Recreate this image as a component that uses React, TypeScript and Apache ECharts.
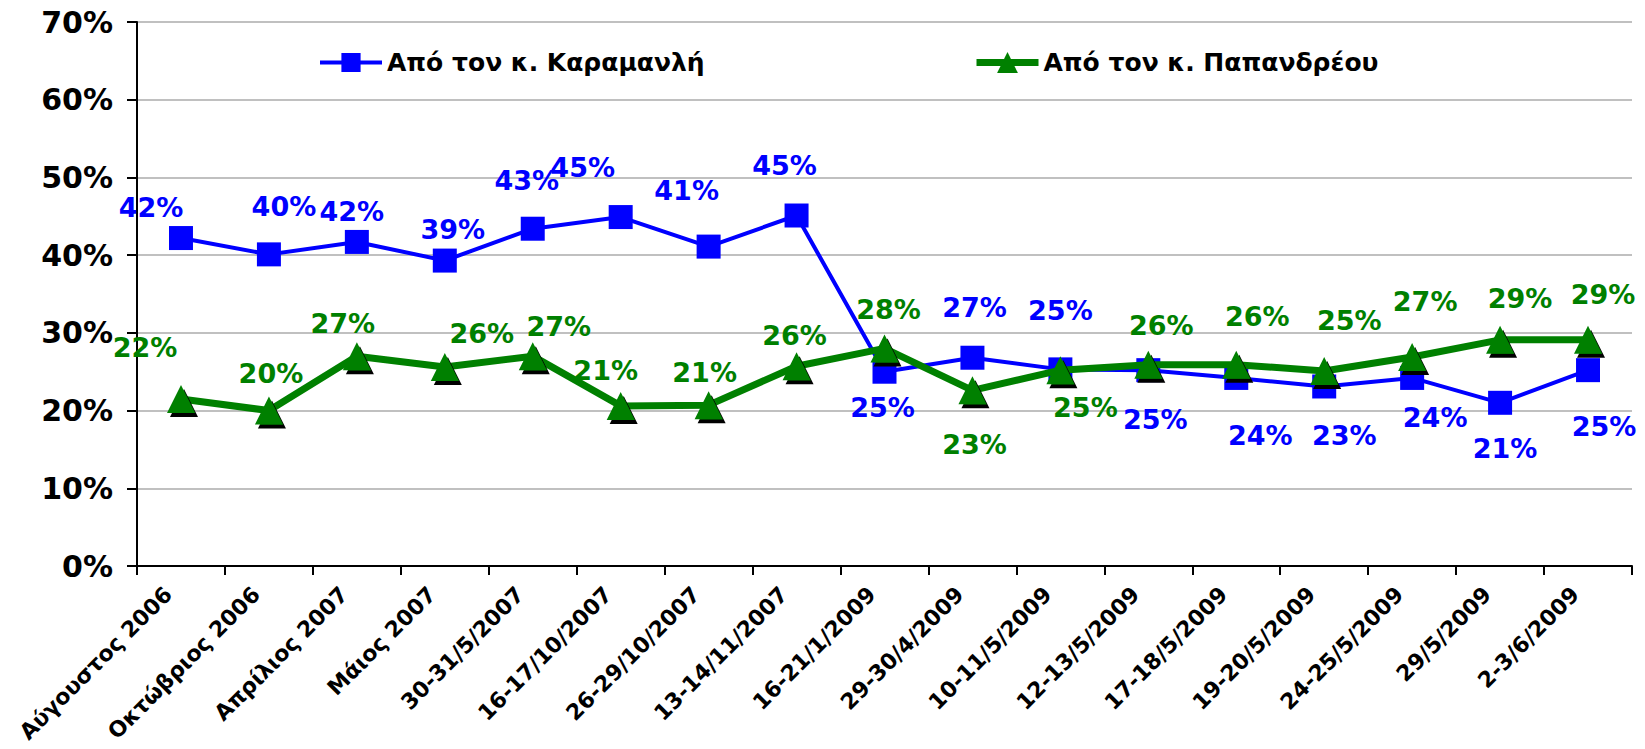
import React, { useEffect, useRef } from "react";
import * as echarts from "echarts";

const categories = [
  "Αύγουστος 2006",
  "Οκτώβριος 2006",
  "Απρίλιος 2007",
  "Μάιος 2007",
  "30-31/5/2007",
  "16-17/10/2007",
  "26-29/10/2007",
  "13-14/11/2007",
  "16-21/1/2009",
  "29-30/4/2009",
  "10-11/5/2009",
  "12-13/5/2009",
  "17-18/5/2009",
  "19-20/5/2009",
  "24-25/5/2009",
  "29/5/2009",
  "2-3/6/2009",
];

const seriesNames = ["Από τον κ. Καραμανλή", "Από τον κ. Παπανδρέου"];

const karamanlisValues = [42.2, 40.1, 41.7, 39.3, 43.4, 44.9, 41.1, 45.1, 25.0, 26.8, 25.3, 25.2, 24.2, 23.1, 24.2, 21.0, 25.2];
const papandreouValues = [21.5, 20.0, 27.0, 25.6, 27.0, 20.6, 20.7, 25.7, 28.0, 22.6, 25.2, 25.9, 25.9, 25.1, 26.9, 29.1, 29.1];

const yTicks = [0, 10, 20, 30, 40, 50, 60, 70];

// label offsets (layout only)
const blueOffsets = [
  [-30, -31], [15, -48], [-5, -30], [8, -31], [-6, -48], [-38, -50], [-22, -56], [-12, -50],
  [-2, 36], [2, -50], [0, -59], [7, 49], [24, 58], [20, 49], [23, 40], [5, 46], [16, 56],
];
const greenOffsets = [
  [-36, -51], [2, -37], [-14, -33], [37, -34], [26, -30], [-15, -35], [-4, -33], [-2, -31],
  [4, -39], [2, 54], [25, 37], [13, -39], [21, -48], [25, -50], [13, -55], [20, -41], [15, -45],
];

const FONT = "'DejaVu Sans', Verdana, sans-serif";

export default function App() {
  const ref = useRef<HTMLDivElement>(null);
  useEffect(() => {
    if (!ref.current) return;
    document.body.style.margin = "0";
    document.body.style.overflow = "hidden";
    const chart = echarts.init(ref.current, undefined, { renderer: "svg" });
    const mkData = (vals: number[], offs: number[][]) =>
      vals.map((v, i) => ({ value: v, label: { offset: offs[i] } }));
    chart.setOption({
      animation: false,
      backgroundColor: "#ffffff",
      grid: { left: 137, right: 13, top: 22, bottom: 183, containLabel: false, outerBoundsMode: "none" },
      legend: [
        {
          data: [seriesNames[0]],
          left: 313,
          top: 45,
          itemWidth: 62,
          itemHeight: 24,
          itemGap: 0,
          lineStyle: { width: 4 },
          textStyle: { fontFamily: FONT, fontWeight: "bold", fontSize: 25, color: "#000" },
        },
        {
          data: [seriesNames[1]],
          left: 968,
          top: 45,
          itemWidth: 62,
          itemHeight: 26,
          itemGap: 0,
          lineStyle: { width: 7 },
          itemStyle: { shadowBlur: 0, shadowOffsetX: 0, shadowOffsetY: 0, shadowColor: "transparent" },
          textStyle: { fontFamily: FONT, fontWeight: "bold", fontSize: 25, color: "#000" },
        },
      ],
      xAxis: {
        type: "category",
        data: categories,
        boundaryGap: true,
        axisLine: { lineStyle: { color: "#000", width: 2 } },
        axisTick: { show: true, alignWithLabel: false, length: 9, lineStyle: { color: "#000", width: 2 } },
        axisLabel: {
          rotate: 45,
          interval: 0,
          margin: 12,
          padding: [0, 18, 0, 0],
          fontFamily: FONT,
          fontWeight: "bold",
          fontSize: 22,
          color: "#000",
        },
      },
      yAxis: {
        type: "value",
        min: 0,
        max: 70,
        interval: 10,
        axisLine: { show: true, lineStyle: { color: "#000", width: 2 } },
        axisTick: { show: true, length: 10, lineStyle: { color: "#000", width: 2 } },
        splitLine: { show: true, lineStyle: { color: "#c0c0c0", width: 2 } },
        axisLabel: {
          margin: 24,
          fontFamily: FONT,
          fontWeight: "bold",
          fontSize: 30,
          color: "#000",
          formatter: (v: number) => (yTicks.includes(v) ? v + "%" : ""),
        },
      },
      series: [
        {
          name: seriesNames[0],
          type: "line",
          data: mkData(karamanlisValues, blueOffsets),
          symbol: "rect",
          symbolSize: 24,
          lineStyle: { color: "#0000ff", width: 4 },
          itemStyle: { color: "#0000ff" },
          z: 3,
          label: {
            show: true,
            position: "inside",
            align: "center",
            verticalAlign: "middle",
            fontFamily: FONT,
            fontWeight: "bold",
            fontSize: 27,
            color: "#0000ff",
            formatter: (p: any) => Math.round(p.value) + "%",
          },
        },
        {
          name: seriesNames[1],
          type: "line",
          data: mkData(papandreouValues, greenOffsets),
          symbol: "triangle",
          symbolSize: 28,
          lineStyle: { color: "#008000", width: 7 },
          itemStyle: {
            color: "#008000",
            shadowColor: "#000000",
            shadowBlur: 1,
            shadowOffsetX: 3,
            shadowOffsetY: 4,
          },
          z: 4,
          label: {
            show: true,
            position: "inside",
            align: "center",
            verticalAlign: "middle",
            fontFamily: FONT,
            fontWeight: "bold",
            fontSize: 27,
            color: "#008000",
            formatter: (p: any) => Math.round(p.value) + "%",
          },
        },
      ],
    });
    return () => chart.dispose();
  }, []);
  return (
    <div style={{ position: "fixed", left: 0, top: 0, width: 1645, height: 749, overflow: "hidden" }}>
      <div ref={ref} style={{ width: 1645, height: 749 }} />
    </div>
  );
}
